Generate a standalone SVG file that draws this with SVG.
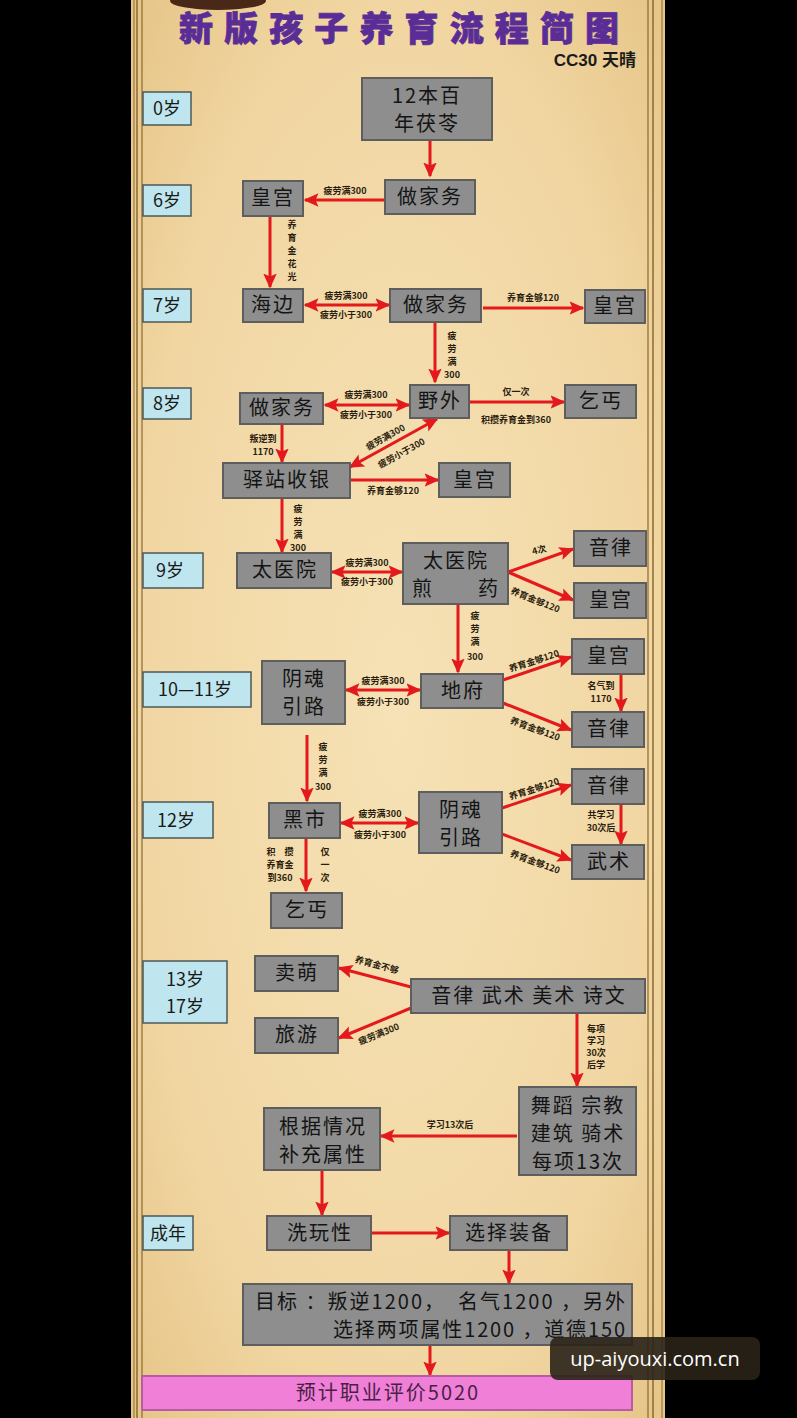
<svg xmlns="http://www.w3.org/2000/svg" width="797" height="1418" viewBox="0 0 797 1418">
<style>
.node rect{fill:#8e8e8e;stroke:#5e5e5e;stroke-width:2}
.node text{font-family:"Noto Sans CJK SC","Noto Sans",sans-serif;font-size:20px;fill:#141414;text-anchor:middle;letter-spacing:2px}
.age rect{fill:#bfe6ee;stroke:#4b5858;stroke-width:1.5}
.age text{font-family:"Noto Sans CJK SC","Noto Sans",sans-serif;font-size:18px;fill:#1a1a1a;text-anchor:middle}
.lbl{font-family:"Noto Sans CJK SC","Noto Sans",sans-serif;font-size:9px;font-weight:bold;fill:#2b1d0e;text-anchor:middle}
.edge{stroke:#e3191c;stroke-width:3;fill:none;marker-end:url(#ah)}
.dbl{marker-start:url(#ah)}
</style>
<defs>
<marker id="ah" viewBox="0 0 10 10" refX="9" refY="5" markerWidth="5" markerHeight="5" orient="auto-start-reverse">
<path d="M0,0.5 L10,5 L0,9.5 L2,5 z" fill="#e3191c"/>
</marker>
<radialGradient id="paper" cx="50%" cy="50%" r="70%">
<stop offset="0" stop-color="#f6e2b6"/>
<stop offset="0.7" stop-color="#f1d6a2"/>
<stop offset="1" stop-color="#e6c588"/>
</radialGradient>
</defs>
<rect x="0" y="0" width="797" height="1418" fill="#000"/>
<rect x="131" y="0" width="534" height="1418" fill="url(#paper)"/>
<g stroke="#8a6a30" fill="none">
<line x1="134" y1="0" x2="134" y2="1418" stroke-width="1"/>
<line x1="137" y1="0" x2="137" y2="1418" stroke-width="1.5"/>
<line x1="142" y1="0" x2="142" y2="1418" stroke-width="1.2"/>
<line x1="648" y1="0" x2="648" y2="1418" stroke-width="1.2"/>
<line x1="653" y1="0" x2="653" y2="1418" stroke-width="1.5"/>
<line x1="662" y1="0" x2="662" y2="1418" stroke-width="1"/>
</g>
<ellipse cx="218" cy="1" rx="48" ry="9" fill="#4a2818"/>
<text x="399" y="41" font-family="'Noto Sans CJK SC',sans-serif" font-size="34" font-weight="900" fill="#5a2d96" stroke="#5a2d96" stroke-width="0.8" text-anchor="middle" textLength="440" lengthAdjust="spacing">新版孩子养育流程简图</text>
<text x="636" y="66" font-family="'Liberation Sans','Noto Sans CJK SC',sans-serif" font-size="17" font-weight="bold" fill="#1a1a1a" text-anchor="end">CC30 天晴</text>

<g id="ages">
<g class="age" id="age0"><rect x="143" y="92" width="48" height="33"/><text x="167" y="115">0岁</text></g>
<g class="age" id="age6"><rect x="143" y="185" width="48" height="31"/><text x="167" y="207">6岁</text></g>
<g class="age" id="age7"><rect x="143" y="289" width="48" height="33"/><text x="167" y="312">7岁</text></g>
<g class="age" id="age8"><rect x="143" y="388" width="48" height="31"/><text x="167" y="410">8岁</text></g>
<g class="age" id="age9"><rect x="143" y="553" width="60" height="35"/><text x="170" y="577">9岁</text></g>
<g class="age" id="age10"><rect x="143" y="672" width="108" height="35"/><text x="195" y="696">10—11岁</text></g>
<g class="age" id="age12"><rect x="143" y="802" width="70" height="36"/><text x="176" y="827">12岁</text></g>
<g class="age" id="age13"><rect x="143" y="961" width="84" height="62"/><text x="185" y="986">13岁</text><text x="185" y="1013">17岁</text></g>
<g class="age" id="ageadult"><rect x="143" y="1216" width="50" height="34"/><text x="168" y="1240">成年</text></g>
</g>

<g id="connectors">
<line class="edge" x1="430" y1="141" x2="430" y2="176"/>
<line class="edge" x1="385" y1="200" x2="305" y2="200"/>
<line class="edge" x1="270" y1="217" x2="270" y2="287"/>
<line class="edge dbl" x1="305" y1="305" x2="389" y2="305"/>
<line class="edge" x1="483" y1="308" x2="583" y2="308"/>
<line class="edge" x1="435" y1="323" x2="435" y2="382"/>
<line class="edge dbl" x1="325" y1="405" x2="409" y2="405"/>
<line class="edge" x1="470" y1="402" x2="564" y2="402"/>
<line class="edge" x1="282" y1="425" x2="282" y2="462"/>
<line class="edge dbl" x1="350" y1="467" x2="437" y2="419"/>
<line class="edge" x1="350" y1="480" x2="438" y2="480"/>
<line class="edge" x1="282" y1="499" x2="282" y2="552"/>
<line class="edge dbl" x1="332" y1="572" x2="402" y2="572"/>
<line class="edge" x1="508" y1="572" x2="573" y2="549"/>
<line class="edge" x1="508" y1="572" x2="573" y2="600"/>
<line class="edge" x1="458" y1="605" x2="458" y2="672"/>
<line class="edge dbl" x1="346" y1="690" x2="420" y2="690"/>
<line class="edge" x1="503" y1="680" x2="571" y2="657"/>
<line class="edge" x1="621" y1="675" x2="621" y2="711"/>
<line class="edge" x1="503" y1="703" x2="571" y2="730"/>
<line class="edge" x1="307" y1="735" x2="307" y2="801"/>
<line class="edge dbl" x1="341" y1="823" x2="418" y2="823"/>
<line class="edge" x1="502" y1="808" x2="571" y2="785"/>
<line class="edge" x1="621" y1="805" x2="621" y2="844"/>
<line class="edge" x1="502" y1="834" x2="571" y2="860"/>
<line class="edge" x1="306" y1="839" x2="306" y2="891"/>
<line class="edge" x1="411" y1="987" x2="339" y2="968"/>
<line class="edge" x1="411" y1="1008" x2="339" y2="1038"/>
<line class="edge" x1="577" y1="1014" x2="577" y2="1086"/>
<line class="edge" x1="517" y1="1136" x2="381" y2="1136"/>
<line class="edge" x1="322" y1="1171" x2="322" y2="1215"/>
<line class="edge" x1="372" y1="1233" x2="449" y2="1233"/>
<line class="edge" x1="509" y1="1251" x2="509" y2="1283"/>
<line class="edge" x1="430" y1="1346" x2="430" y2="1375"/>

<g id="labels">
<text class="lbl" x="345" y="194">疲劳满300</text>
<text class="lbl" x="292" y="228">养</text><text class="lbl" x="292" y="241">育</text><text class="lbl" x="292" y="254">金</text><text class="lbl" x="292" y="267">花</text><text class="lbl" x="292" y="280">光</text>
<text class="lbl" x="346" y="299">疲劳满300</text>
<text class="lbl" x="346" y="318">疲劳小于300</text>
<text class="lbl" x="533" y="301">养育金够120</text>
<text class="lbl" x="452" y="339">疲</text><text class="lbl" x="452" y="352">劳</text><text class="lbl" x="452" y="365">满</text><text class="lbl" x="452" y="378">300</text>
<text class="lbl" x="366" y="398">疲劳满300</text>
<text class="lbl" x="366" y="418">疲劳小于300</text>
<text class="lbl" x="516" y="395">仅一次</text>
<text class="lbl" x="516" y="423">积攒养育金到360</text>
<text class="lbl" x="263" y="442">叛逆到</text>
<text class="lbl" x="263" y="455">1170</text>
<text class="lbl" transform="translate(387,440) rotate(-29)">疲劳满300</text>
<text class="lbl" transform="translate(403,456) rotate(-29)">疲劳小于300</text>
<text class="lbl" x="393" y="494">养育金够120</text>
<text class="lbl" x="298" y="512">疲</text><text class="lbl" x="298" y="525">劳</text><text class="lbl" x="298" y="538">满</text><text class="lbl" x="298" y="551">300</text>
<text class="lbl" x="367" y="566">疲劳满300</text>
<text class="lbl" x="367" y="585">疲劳小于300</text>
<text class="lbl" transform="translate(540,553) rotate(-15)">4次</text>
<text class="lbl" transform="translate(534,603) rotate(22)">养育金够120</text>
<text class="lbl" x="475" y="619">疲</text><text class="lbl" x="475" y="632">劳</text><text class="lbl" x="475" y="645">满</text><text class="lbl" x="475" y="660">300</text>
<text class="lbl" x="383" y="684">疲劳满300</text>
<text class="lbl" x="383" y="705">疲劳小于300</text>
<text class="lbl" transform="translate(535,664) rotate(-18)">养育金够120</text>
<text class="lbl" x="601" y="689">名气到</text>
<text class="lbl" x="601" y="702">1170</text>
<text class="lbl" transform="translate(534,732) rotate(20)">养育金够120</text>
<text class="lbl" x="323" y="750">疲</text><text class="lbl" x="323" y="763">劳</text><text class="lbl" x="323" y="776">满</text><text class="lbl" x="323" y="790">300</text>
<text class="lbl" x="380" y="817">疲劳满300</text>
<text class="lbl" x="380" y="838">疲劳小于300</text>
<text class="lbl" transform="translate(535,792) rotate(-18)">养育金够120</text>
<text class="lbl" x="601" y="818">共学习</text>
<text class="lbl" x="601" y="831">30次后</text>
<text class="lbl" transform="translate(534,865) rotate(20)">养育金够120</text>
<text class="lbl" x="280" y="855">积　攒</text>
<text class="lbl" x="280" y="868">养育金</text>
<text class="lbl" x="280" y="881">到360</text>
<text class="lbl" x="325" y="855">仅</text><text class="lbl" x="325" y="868">一</text><text class="lbl" x="325" y="881">次</text>
<text class="lbl" transform="translate(376,968) rotate(15)">养育金不够</text>
<text class="lbl" transform="translate(380,1037) rotate(-22)">疲劳满300</text>
<text class="lbl" x="596" y="1032">每项</text>
<text class="lbl" x="596" y="1044">学习</text>
<text class="lbl" x="596" y="1056">30次</text>
<text class="lbl" x="596" y="1068">后学</text>
<text class="lbl" x="450" y="1128">学习13次后</text>
</g>
</g>

<g id="nodes">
<g class="node" id="n_start"><rect x="362" y="78" width="130" height="62"/><text x="427" y="103">12本百</text><text x="427" y="131">年茯苓</text></g>
<g class="node" id="n_zjw6"><rect x="385" y="180" width="90" height="34"/><text x="430" y="204">做家务</text></g>
<g class="node" id="n_hg6"><rect x="243" y="181" width="60" height="35"/><text x="273" y="205">皇宫</text></g>
<g class="node" id="n_hb7"><rect x="243" y="289" width="60" height="33"/><text x="273" y="312">海边</text></g>
<g class="node" id="n_zjw7"><rect x="390" y="289" width="91" height="33"/><text x="436" y="312">做家务</text></g>
<g class="node" id="n_hg7"><rect x="585" y="290" width="60" height="33"/><text x="615" y="313">皇宫</text></g>
<g class="node" id="n_yw8"><rect x="410" y="385" width="59" height="33"/><text x="440" y="408">野外</text></g>
<g class="node" id="n_zjw8"><rect x="240" y="393" width="83" height="31"/><text x="282" y="415">做家务</text></g>
<g class="node" id="n_qg8"><rect x="565" y="385" width="71" height="33"/><text x="601" y="408">乞丐</text></g>
<g class="node" id="n_yz8"><rect x="223" y="463" width="127" height="35"/><text x="287" y="487">驿站收银</text></g>
<g class="node" id="n_hg8"><rect x="439" y="463" width="71" height="34"/><text x="475" y="487">皇宫</text></g>
<g class="node" id="n_tyy9"><rect x="237" y="553" width="94" height="35"/><text x="285" y="577">太医院</text></g>
<g class="node" id="n_jy9"><rect x="403" y="543" width="105" height="61"/><text x="456" y="568">太医院</text><text x="456" y="596">煎　　药</text></g>
<g class="node" id="n_yl9"><rect x="574" y="531" width="72" height="35"/><text x="611" y="555">音律</text></g>
<g class="node" id="n_hg9"><rect x="574" y="583" width="72" height="35"/><text x="611" y="607">皇宫</text></g>
<g class="node" id="n_yh10"><rect x="262" y="661" width="83" height="63"/><text x="304" y="686">阴魂</text><text x="304" y="714">引路</text></g>
<g class="node" id="n_df10"><rect x="421" y="674" width="82" height="34"/><text x="463" y="698">地府</text></g>
<g class="node" id="n_hg10"><rect x="572" y="639" width="72" height="35"/><text x="609" y="663">皇宫</text></g>
<g class="node" id="n_yl10"><rect x="572" y="712" width="72" height="35"/><text x="609" y="736">音律</text></g>
<g class="node" id="n_hs12"><rect x="269" y="803" width="71" height="35"/><text x="305" y="827">黑市</text></g>
<g class="node" id="n_yh12"><rect x="419" y="792" width="83" height="61"/><text x="461" y="817">阴魂</text><text x="461" y="845">引路</text></g>
<g class="node" id="n_yl12"><rect x="572" y="769" width="72" height="35"/><text x="609" y="793">音律</text></g>
<g class="node" id="n_ws12"><rect x="572" y="845" width="72" height="34"/><text x="609" y="869">武术</text></g>
<g class="node" id="n_qg12"><rect x="271" y="893" width="71" height="35"/><text x="307" y="917">乞丐</text></g>
<g class="node" id="n_mm"><rect x="255" y="956" width="83" height="35"/><text x="297" y="980">卖萌</text></g>
<g class="node" id="n_ly"><rect x="255" y="1018" width="83" height="35"/><text x="297" y="1042">旅游</text></g>
<g class="node" id="n_four"><rect x="411" y="979" width="234" height="34"/><text x="529" y="1003">音律 武术 美术 诗文</text></g>
<g class="node" id="n_wd"><rect x="519" y="1087" width="117" height="88"/><text x="578" y="1113">舞蹈 宗教</text><text x="578" y="1141">建筑 骑术</text><text x="578" y="1169">每项13次</text></g>
<g class="node" id="n_gj"><rect x="264" y="1108" width="116" height="62"/><text x="323" y="1134">根据情况</text><text x="323" y="1162">补充属性</text></g>
<g class="node" id="n_xw"><rect x="267" y="1216" width="104" height="34"/><text x="320" y="1240">洗玩性</text></g>
<g class="node" id="n_xz"><rect x="450" y="1216" width="117" height="34"/><text x="509" y="1240">选择装备</text></g>
<g class="node" id="n_goal"><rect x="243" y="1284" width="389" height="61"/><text x="255" y="1309" style="text-anchor:start;letter-spacing:0" textLength="370" lengthAdjust="spacing">目标 ：叛逆1200，　名气1200 ，另外</text><text x="625" y="1337" style="text-anchor:end;letter-spacing:0" textLength="292" lengthAdjust="spacing">选择两项属性1200 ，道德150</text></g>
<g class="node" id="n_eval"><rect x="142" y="1376" width="490" height="34" style="fill:#f07fd8;stroke:#b85aa6"/><text x="388" y="1400" style="fill:#4a1f45">预计职业评价5020</text></g>
</g>

<g id="watermark">
<rect x="550" y="1337" width="210" height="43" rx="8" fill="#2a2218" fill-opacity="0.9"/>
<text x="655" y="1366" font-family="'Open Sans','Noto Sans',sans-serif" font-size="20" fill="#ffffff" text-anchor="middle">up-aiyouxi.com.cn</text>
</g>
</svg>
